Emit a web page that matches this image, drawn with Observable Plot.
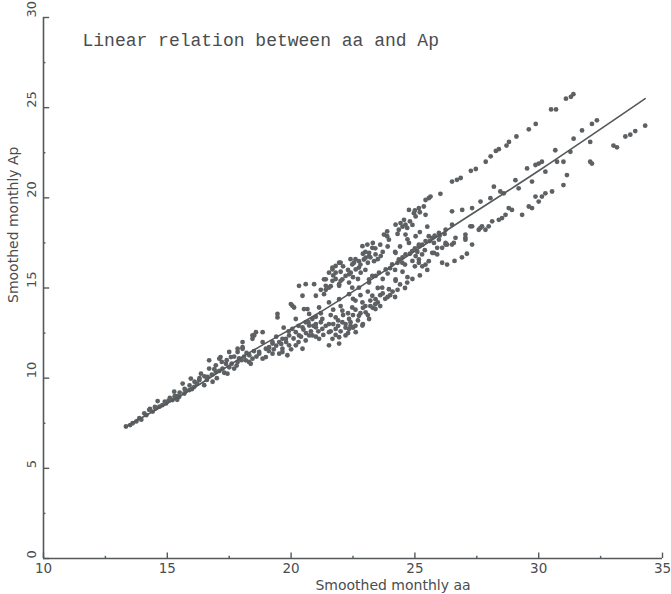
<!DOCTYPE html>
<html><head><meta charset="utf-8">
<script src="https://cdn.jsdelivr.net/npm/d3@7"></script>
<script src="https://cdn.jsdelivr.net/npm/@observablehq/plot@0.6"></script>
<style>body{margin:0;background:#fff}</style>
</head><body><div id="chart"></div>
<script>
const aa = [13.33,13.5,13.6,13.75,13.87,13.95,14.07,14.15,14.27,14.41,14.54,14.68,14.61,14.8,14.95,15.05,15.21,15.28,15.4,15.48,15.69,15.62,15.75,15.89,15.95,16.09,16.2,16.29,16.36,16.49,16.63,16.69,16.69,16.83,16.96,16.96,17.1,17.15,17.23,17.37,17.43,17.5,17.57,17.7,17.84,17.84,17.84,18.04,18.04,18.04,18.17,18.31,18.37,18.44,18.44,18.44,18.51,18.58,18.71,18.71,18.85,18.85,18.85,18.98,18.98,19.11,19.25,19.25,19.25,19.45,19.45,19.52,19.52,19.65,19.65,19.65,19.79,19.85,19.92,19.92,19.99,20.05,20.05,20.12,20.19,20.19,20.19,20.32,20.32,20.46,20.46,20.46,20.52,20.59,20.59,20.59,20.66,20.73,20.73,20.73,20.86,20.86,20.93,21.0,21.0,21.0,21.13,21.13,21.26,21.26,21.33,21.33,21.4,21.4,21.53,21.53,21.53,21.53,21.53,21.53,21.67,21.67,21.67,21.67,21.8,21.8,21.8,21.8,21.94,21.94,21.94,21.94,21.94,21.94,22.0,22.07,22.07,22.07,22.2,22.2,22.34,22.34,22.34,22.34,22.34,22.41,22.47,22.47,22.47,22.54,22.61,22.61,22.74,22.74,22.74,22.74,22.81,22.88,22.88,22.88,22.94,23.01,23.01,23.08,23.15,23.15,23.15,23.15,23.15,23.28,23.28,23.28,23.35,23.41,23.41,23.41,23.41,23.55,23.5,23.62,23.68,23.75,23.8,23.82,23.88,23.88,23.95,23.95,24.0,24.08,24.22,24.22,24.22,24.22,24.3,24.35,24.35,24.42,24.49,24.56,24.6,24.62,24.62,24.62,24.69,24.69,24.76,24.76,24.89,24.9,24.96,25.03,25.03,25.03,25.16,25.16,25.16,25.16,25.16,25.2,25.29,25.36,25.43,25.43,25.43,25.43,25.5,25.56,25.56,25.56,25.63,25.7,25.7,25.77,25.77,25.9,25.9,25.97,25.97,26.03,26.1,26.1,26.24,26.24,26.24,26.3,26.3,26.5,26.5,26.5,26.5,26.57,26.6,26.64,26.7,26.85,26.9,26.91,27.04,27.04,27.04,27.1,27.24,27.26,27.31,27.31,27.31,27.46,27.58,27.65,27.65,27.71,27.85,27.86,27.98,28.05,28.06,28.12,28.19,28.27,28.39,28.39,28.45,28.52,28.59,28.66,28.7,28.79,28.8,28.92,29.06,29.1,29.19,29.33,29.53,29.6,29.6,29.73,29.73,29.87,29.87,29.88,30.0,30.0,30.13,30.13,30.27,30.27,30.5,30.54,30.67,30.7,30.74,31.0,31.0,31.1,31.14,31.28,31.3,31.41,31.4,31.75,32.08,32.08,32.15,32.15,32.35,33.02,33.16,33.5,33.7,33.9,34.3,22.2,22.5,22.9,23.2,22.6,21.7,21.2,21.9,22.4,23.6,
16.6,16.8,17.0,17.1,17.3,17.5,17.6,17.8,17.9,18.1,18.2,18.3,18.5,18.6,17.2,16.9,16.5,17.4,17.7,18.0,
19.1,19.3,19.4,19.6,19.8,20.0,20.1,20.3,20.4,20.6,20.8,20.9,21.1,20.5,19.9,19.7,20.3,20.7,21.0,19.4,
21.3,21.4,21.6,21.7,21.8,21.9,22.0,22.1,22.2,22.3,22.4,22.5,22.6,22.7,22.8,22.9,23.0,23.1,23.2,23.3,23.4,23.6,23.7,23.9,24.1,22.0,22.5,21.6,21.2,22.8,23.1,23.5,24.4,24.7,24.2,22.3,21.0,22.6,
21.6,21.8,22.0,22.1,22.3,22.5,22.6,22.8,22.9,23.0,23.1,23.2,23.3,23.4,23.5,23.6,23.7,23.9,22.4,22.0,21.7,22.7,23.0,21.4,21.2,
23.7,23.9,24.0,24.2,24.3,24.5,24.6,24.8,24.9,25.0,25.1,25.3,25.4,25.6,25.8,26.0,26.2,24.4,24.7,24.2,25.2,25.5,24.5,25.0,25.3,
24.3,24.5,24.8,25.0,25.2,24.9,
14.3,14.5,14.9,15.1,15.3,15.5,15.7,15.9,16.1,16.3,16.0,15.4];
const ap = [7.32,7.4,7.5,7.6,7.78,7.7,8.05,7.95,8.24,8.15,8.33,8.42,8.73,8.5,8.6,8.75,8.79,9.25,9.0,8.97,9.15,9.7,9.3,9.34,9.98,9.52,9.7,9.89,10.25,9.61,10.07,10.53,10.99,9.8,10.71,10.35,11.08,11.17,10.53,10.8,10.25,11.45,11.17,10.53,10.9,11.45,11.63,11.63,11.72,12.0,10.99,11.27,10.8,11.08,12.18,12.37,12.37,12.55,11.36,11.45,12.0,12.55,11.08,11.17,11.63,11.72,12.0,11.92,11.36,13.37,13.56,11.36,12.0,11.63,12.18,11.45,12.18,11.27,11.82,12.37,14.11,12.73,14.02,13.92,13.28,12.55,11.82,12.37,15.12,14.57,12.82,11.63,13.83,13.1,15.21,12.09,13.83,12.37,13.56,12.92,13.28,12.37,15.21,12.82,14.57,13.0,13.92,12.18,13.28,12.73,14.66,15.48,15.48,15.12,15.02,14.2,13.0,12.55,11.82,15.85,16.03,16.13,15.4,12.18,16.22,13.37,12.73,15.85,16.4,15.21,14.38,12.27,11.92,15.12,16.4,13.74,13.1,15.48,15.67,12.37,14.66,13.28,12.73,15.76,15.3,15.85,13.92,16.31,15.02,16.4,12.55,16.03,16.13,15.02,13.46,16.49,15.85,14.2,12.92,17.32,16.58,13.65,16.68,17.41,16.77,15.3,13.28,16.95,15.48,14.57,17.23,15.67,16.49,15.67,13.83,14.38,16.86,15.85,14.2,16.77,15.02,17.96,14.4,16.03,18.14,17.87,17.68,14.93,14.6,16.31,18.51,16.95,15.4,15.48,14.9,18.23,16.58,18.6,16.4,18.78,15.0,18.51,16.86,17.96,18.33,15.3,19.33,17.5,17.05,15.5,19.15,18.97,16.77,17.87,19.43,17.32,16.4,16.58,17.4,15.7,16.86,19.52,19.06,17.6,16.3,19.88,16.0,19.98,17.87,16.49,20.07,17.78,16.95,17.5,16.95,17.23,16.86,18.05,17.68,20.22,17.23,16.4,18.23,17.5,17.41,17.41,16.3,18.51,17.41,19.25,20.9,17.5,16.5,17.78,21.0,21.1,16.7,19.33,17.96,17.78,17.68,16.9,18.42,21.5,19.43,17.41,18.42,21.6,18.23,19.79,18.33,18.42,18.23,22.0,18.42,19.98,22.3,18.7,20.62,22.6,22.7,18.78,20.35,18.88,20.25,19.06,22.9,19.43,23.1,19.33,20.98,23.4,20.53,19.06,21.63,19.52,23.8,20.9,19.43,21.82,20.07,24.1,21.9,19.79,22.0,20.07,21.45,20.25,24.9,20.35,22.64,24.9,22.0,22.0,20.71,25.5,21.26,22.55,25.6,23.28,25.75,23.74,23.1,22.0,21.9,24.1,24.3,22.9,22.8,23.4,23.5,23.7,24.0,13.0,13.5,13.9,14.0,14.3,13.8,13.6,12.9,12.9,14.6,
9.9,10.2,10.0,10.4,10.3,10.6,10.8,10.7,11.1,11.2,11.4,10.9,11.5,11.2,10.9,10.5,10.1,11.0,11.2,11.0,
11.5,11.6,11.8,11.9,12.0,11.6,12.2,12.0,12.3,12.5,12.6,12.9,12.6,12.7,12.6,12.8,12.9,13.1,13.4,12.3,
12.4,12.9,12.6,13.0,12.4,13.2,12.6,13.5,12.8,13.6,13.1,12.8,13.8,13.2,13.6,13.0,14.0,13.5,14.3,13.9,14.1,14.0,14.7,14.5,14.8,14.0,14.4,13.5,13.1,14.6,14.8,15.0,15.2,15.6,14.5,12.5,12.3,12.9,
15.1,15.5,15.9,16.2,16.0,15.6,16.6,16.3,16.9,17.0,16.4,16.7,17.5,17.2,16.6,17.4,17.0,17.3,16.6,15.4,15.7,15.5,16.0,14.9,14.9,
15.5,15.8,16.1,16.0,16.4,16.7,16.3,16.9,16.5,17.2,17.0,17.4,17.1,17.6,17.9,17.9,18.0,17.3,17.7,17.0,18.1,18.4,15.9,16.2,16.2,
18.0,18.4,18.7,19.3,19.2,18.5,
8.3,8.4,8.7,8.9,9.0,9.2,9.4,9.6,9.8,10.0,9.4,8.8];
const fitAa = [13.3, 16, 18.3, 21.1, 23.5, 26.4, 30, 34.3];
const fitAp = [7.3, 9.4, 11.4, 13.6, 15.7, 18.3, 21.5, 25.5];
const xTicks = [10, 15, 20, 25, 30, 35];
const yTicks = [0, 5, 10, 15, 20, 25, 30];
const xMinor = [12.5, 17.5, 22.5, 27.5, 32.5];
const yMinor = [2.5, 7.5, 12.5, 17.5, 22.5, 27.5];
const title = "Linear relation between aa and Ap";
const xLabel = "Smoothed monthly aa";
const yLabel = "Smoothed monthly Ap";

const pts = aa.map((a, i) => ({aa: a, ap: ap[i]}));
const fit = fitAa.map((a, i) => ({aa: a, ap: fitAp[i]}));
const ink = "#55595b";
const textInk = "#4a4d4f";
const sans = "DejaVu Sans, sans-serif";

const chart = Plot.plot({
  width: 671, height: 594,
  marginLeft: 43, marginRight: 9, marginTop: 17, marginBottom: 36,
  x: {domain: [10, 35], axis: null},
  y: {domain: [0, 30], axis: null},
  style: {background: "#fff"},
  marks: [
    Plot.ruleX([10], {stroke: ink, strokeWidth: 1.6}),
    Plot.ruleY([0], {stroke: ink, strokeWidth: 1.6}),
    Plot.ruleX(xTicks, {x: d => d, y1: 0, y2: 0.3, stroke: ink, strokeWidth: 1.4}),
    Plot.ruleX(xMinor, {x: d => d, y1: 0, y2: 0.12, stroke: ink, strokeWidth: 1.4}),
    Plot.ruleY(yTicks, {y: d => d, x1: 10, x2: 10.25, stroke: ink, strokeWidth: 1.4}),
    Plot.ruleY(yMinor, {y: d => d, x1: 10, x2: 10.1, stroke: ink, strokeWidth: 1.4}),
    Plot.text(xTicks, {x: d => d, text: d => String(d), frameAnchor: "bottom", dy: 10, lineAnchor: "middle", fontFamily: sans, fontSize: 13.5, fill: textInk}),
    Plot.text(yTicks, {y: d => d, text: d => String(d), frameAnchor: "left", dx: -12, rotate: -90, lineAnchor: "middle", fontFamily: sans, fontSize: 13, fill: textInk}),
    Plot.text([xLabel], {frameAnchor: "bottom", dx: 40, dy: 27, lineAnchor: "middle", fontFamily: sans, fontSize: 14, fill: textInk}),
    Plot.text([yLabel], {frameAnchor: "left", dx: -30, dy: 15, rotate: -90, lineAnchor: "middle", fontFamily: sans, fontSize: 14, fill: textInk}),
    Plot.text([title], {frameAnchor: "top-left", dx: 39, dy: 23, textAnchor: "start", lineAnchor: "middle", fontFamily: "Liberation Mono, monospace", fontSize: 18, fill: textInk}),
    Plot.dot(pts, {x: "aa", y: "ap", r: 2.4, fill: "#5d6163", stroke: "none"}),
    Plot.line(fit, {x: "aa", y: "ap", stroke: ink, strokeWidth: 1.6, curve: "catmull-rom"})
  ]
});
document.getElementById("chart").appendChild(chart);
</script>
</body></html>
